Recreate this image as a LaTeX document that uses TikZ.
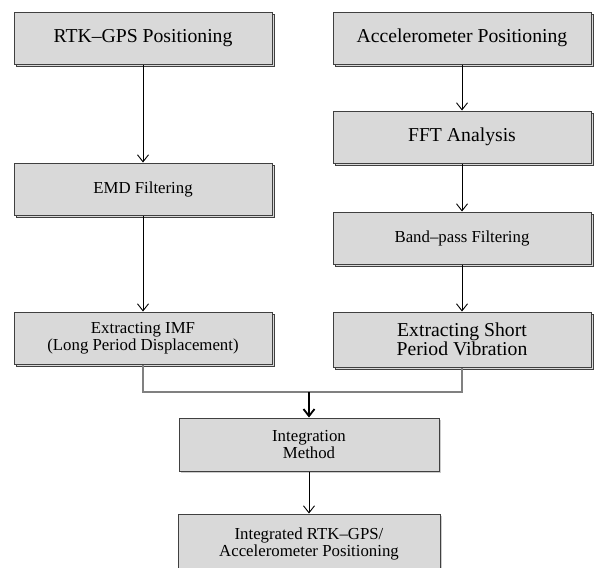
\documentclass[tikz,border=0pt]{standalone}
\usepackage{fontspec}
\setmainfont{Liberation Serif}
\usetikzlibrary{arrows.meta,shadows}

\begin{document}
\begin{tikzpicture}[x=1pt, y=-1pt,
             every node/.style={draw=black!75, fill=black!15, line width=1pt, shape=rectangle,
                                align=center, inner sep=0pt, minimum width=258pt, minimum height=52pt},
             bigtext/.style={font=\fontsize{19.7}{19}\selectfont},
             smalltext/.style={font=\fontsize{16.8}{17}\selectfont},
             boxshadow/.style={copy shadow={shadow xshift=2pt, shadow yshift=-2pt}},
             softshadow/.style={drop shadow={shadow xshift=1.5pt, shadow yshift=-1.5pt, fill=black!40, opacity=0.5}},
             flow/.style={->, >={Straight Barb[length=7pt,width=11pt]}, line width=0.9pt},
             mergeline/.style={draw=black!50, line width=1.2pt}]
\useasboundingbox (0,0) rectangle (598,568);
\clip (0,0) rectangle (598,568);

\node (rtk) [bigtext, boxshadow] at (143,38) {RTK--GPS Positioning};
\node (acc) [bigtext, boxshadow] at (462,38) {Accelerometer Positioning};
\node (fft) [bigtext, boxshadow] at (462,137) {FFT Analysis};
\node (emd) [smalltext, boxshadow] at (143,189) {EMD Filtering};
\node (band) [smalltext, boxshadow] at (462,238) {Band--pass Filtering};
\node (imf) [smalltext, boxshadow] at (143,338) {Extracting IMF\\(Long Period Displacement)};
\node (short) [bigtext, boxshadow, minimum height=55pt] at (462,339.5) {Extracting Short\\Period Vibration};
\node (integ) [smalltext, softshadow, minimum width=260pt, minimum height=53pt] at (309,444.5) {Integration\\Method};
\node (result) [smalltext, softshadow, minimum width=262pt, minimum height=60pt] at (309,544) {Integrated RTK--GPS/\\Accelerometer Positioning};

\draw [flow] (rtk) -- (emd);
\draw [flow] (emd) -- (imf);
\draw [flow] (acc) -- (fft);
\draw [flow] (fft) -- (band);
\draw [flow] (band) -- (short);

\coordinate (joint) at (309,392);
\draw [mergeline] (imf.south) |- (joint) -| (short.south);
\draw [flow, line width=1.8pt] (joint) -- (integ);
\draw [flow] (integ) -- (result);

\end{tikzpicture}
\end{document}
